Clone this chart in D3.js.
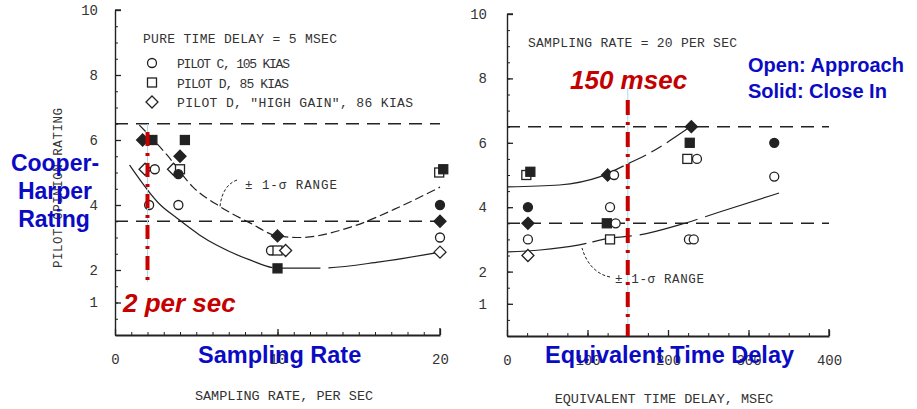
<!DOCTYPE html>
<html>
<head>
<meta charset="utf-8">
<script src="https://cdn.jsdelivr.net/npm/d3@7"></script>
<style>
  body { margin: 0; background: #fff; }
  svg { display: block; }
  .mono { font-family: "Liberation Mono", "DejaVu Sans Mono", monospace; fill: #333; }
  .blue { font-family: "Liberation Sans", Arial, sans-serif; font-weight: bold; fill: #0b0bc4; }
  .red { font-family: "Liberation Sans", Arial, sans-serif; font-weight: bold; font-style: italic; fill: #c40000; }
</style>
</head>
<body>
<svg id="main" width="917" height="409"></svg>
<script>
// ---- data ----
// pilot: C = pilot C 105 kias (circle), D = pilot D 85 kias (square), DH = pilot D high gain (diamond)
// task: A = approach (open), C = close in (solid)
var leftPoints = [
  [1.7, 6.0, 'DH', 'C'], [2.3, 6.0, 'D', 'C'],
  [1.85, 5.1, 'DH', 'A'], [2.45, 5.1, 'C', 'A'], [2.1, 4.0, 'C', 'A'],
  [4.3, 6.0, 'D', 'C'], [4.0, 5.5, 'DH', 'C'],
  [3.6, 5.1, 'DH', 'A'], [4.0, 5.1, 'D', 'A'], [3.9, 4.95, 'C', 'C'], [3.9, 4.0, 'C', 'A'],
  [10.0, 3.05, 'DH', 'C'],
  [9.6, 2.6, 'C', 'A'], [10.0, 2.6, 'D', 'A'], [10.5, 2.6, 'DH', 'A'],
  [10.0, 2.05, 'D', 'C'],
  [19.95, 5.0, 'D', 'A'], [20.2, 5.1, 'D', 'C'],
  [20, 4.0, 'C', 'C'], [20, 3.5, 'DH', 'C'], [20, 3.0, 'C', 'A'], [20, 2.55, 'DH', 'A']
];
var rightPoints = [
  [24, 5.0, 'D', 'A'], [29, 5.1, 'D', 'C'],
  [26, 4.0, 'C', 'C'], [26, 3.5, 'DH', 'C'], [26, 3.0, 'C', 'A'], [26, 2.5, 'DH', 'A'],
  [125, 5.0, 'DH', 'C'], [133, 5.0, 'C', 'A'],
  [128, 4.0, 'C', 'A'], [124, 3.5, 'D', 'C'], [135, 3.5, 'C', 'A'], [128, 3.0, 'D', 'A'],
  [229, 6.5, 'DH', 'C'], [227, 6.0, 'D', 'C'],
  [224, 5.5, 'D', 'A'], [236, 5.5, 'C', 'A'],
  [226, 3.0, 'C', 'A'], [232, 3.0, 'C', 'A'],
  [332, 6.0, 'C', 'C'], [332, 4.95, 'C', 'A']
];

// +/- 1 sigma range curves
var leftUpper = [[1.5, 6.46], [3.2, 5.54], [4.8, 4.55], [6.5, 3.94], [8.3, 3.45], [10, 3.05],
  [11.4, 3.0], [14.5, 3.32], [17.5, 3.94], [20, 4.55]];
var leftLower = [[0.9, 5.23], [2.8, 4.0], [3.8, 3.6], [5.2, 3.08], [8.3, 2.31], [10, 2.06],
  [12.6, 2.06], [16.3, 2.25], [20, 2.55]];
var rightUpper = [[0, 4.63], [65, 4.69], [115, 4.94], [152, 5.37], [168, 5.56], [229, 6.52]];
var rightLower = [[0, 2.61], [41, 2.67], [90, 2.83], [128, 3.04], [165, 3.14], [214, 3.45],
  [264, 3.85], [338, 4.44]];

var ratingBounds = [6.5, 3.5];
var ratingLabels = [1, 2, 4, 6, 8, 10];
var leftXLabels = [0, 10, 20];
var rightXLabels = [0, 100, 200, 300, 400];
var leftMark = 2;      // per sec
var rightMark = 150;   // msec

var legendItems = [['C', 'PILOT C, 105 KIAS'], ['D', 'PILOT D,  85 KIAS'], ['DH', 'PILOT D, "HIGH GAIN", 86 KIAS']];

// ---- drawing ----
var svg = d3.select('#main');
var ink = '#222';

var xL = d3.scaleLinear().domain([0, 20]).range([115, 440]);
var yL = d3.scaleLinear().domain([0, 10]).range([335, 10]);
var xR = d3.scaleLinear().domain([0, 400]).range([507, 829]);
var yR = d3.scaleLinear().domain([0, 10]).range([336, 14]);

function marker(g, x, y, pilot, task) {
  var fill = task == 'C' ? ink : '#fff';
  if (pilot == 'C') {
    g.append('circle').attr('cx', x).attr('cy', y).attr('r', 4.5)
      .attr('fill', fill).attr('stroke', ink).attr('stroke-width', 1.3);
  } else if (pilot == 'D') {
    g.append('rect').attr('x', x - 4.5).attr('y', y - 4.5).attr('width', 9).attr('height', 9)
      .attr('fill', fill).attr('stroke', ink).attr('stroke-width', 1.3);
  } else {
    g.append('path').attr('d', 'M' + x + ' ' + (y - 6) + ' L' + (x + 6) + ' ' + y + ' L' + x + ' ' + (y + 6) + ' L' + (x - 6) + ' ' + y + 'Z')
      .attr('fill', fill).attr('stroke', ink).attr('stroke-width', 1.3);
  }
}

function panel(x, y, points, upper, lower, xLabels, xMinor, yPad, upDash, lowDash) {
  var g = svg.append('g');
  // minor y ticks
  g.append('g').attr('transform', 'translate(' + x.range()[0] + ',0)')
    .call(d3.axisRight(y).tickValues(d3.range(0, 10.01, 0.5)).tickSizeInner(3).tickSizeOuter(0).tickFormat(''))
    .call(function(a) { a.select('.domain').remove(); a.selectAll('line').attr('stroke', ink); });
  // labelled y axis
  g.append('g').attr('transform', 'translate(' + x.range()[0] + ',0)')
    .call(d3.axisLeft(y).tickValues(ratingLabels).tickSizeInner(-6).tickSizeOuter(0).tickPadding(yPad))
    .call(function(a) {
      a.select('.domain').attr('stroke', ink).attr('stroke-width', 1.4);
      a.selectAll('line').attr('stroke', ink).attr('stroke-width', 1.3);
      a.selectAll('text').attr('class', 'mono').attr('font-size', 14);
    });
  // top bracket
  g.append('line').attr('x1', x.range()[0]).attr('x2', x.range()[0] + 6)
    .attr('y1', y(10)).attr('y2', y(10)).attr('stroke', ink).attr('stroke-width', 1.4);
  // x axis
  g.append('g').attr('transform', 'translate(0,' + y.range()[0] + ')')
    .call(d3.axisBottom(x).tickValues(xMinor).tickSizeInner(-3).tickSizeOuter(0).tickFormat(''))
    .call(function(a) { a.select('.domain').remove(); a.selectAll('line').attr('stroke', ink); });
  g.append('g').attr('transform', 'translate(0,' + y.range()[0] + ')')
    .call(d3.axisBottom(x).tickValues(xLabels).tickSizeInner(-6).tickSizeOuter(0).tickPadding(19))
    .call(function(a) {
      a.select('.domain').attr('stroke', ink).attr('stroke-width', 2);
      a.selectAll('line').attr('stroke', ink).attr('stroke-width', 1.3);
      a.selectAll('text').attr('class', 'mono').attr('font-size', 14);
    });
  g.append('line').attr('x1', x.range()[1]).attr('x2', x.range()[1])
    .attr('y1', y.range()[0]).attr('y2', y.range()[0] - 7).attr('stroke', ink).attr('stroke-width', 1.4);
  // rating boundaries
  g.selectAll('.bound').data(ratingBounds).enter().append('line')
    .attr('x1', x.range()[0]).attr('x2', x.range()[1])
    .attr('y1', function(d) { return y(d); }).attr('y2', function(d) { return y(d); })
    .attr('stroke', ink).attr('stroke-width', 1.6).attr('stroke-dasharray', '13,8');
  // range curves
  var line = d3.line().x(function(d) { return x(d[0]); }).y(function(d) { return y(d[1]); })
    .curve(d3.curveMonotoneX);
  g.append('path').attr('d', line(upper)).attr('fill', 'none').attr('stroke', ink)
    .attr('stroke-width', 1.2).attr('stroke-dasharray', upDash);
  g.append('path').attr('d', line(lower)).attr('fill', 'none').attr('stroke', ink)
    .attr('stroke-width', 1.2).attr('stroke-dasharray', lowDash);
  // points
  points.forEach(function(p) { marker(g, x(p[0]), y(p[1]), p[2], p[3]); });
  return g;
}

panel(xL, yL, leftPoints, leftUpper, leftLower, leftXLabels, d3.range(0, 21, 1), 17, '9,4', '120,0,60,8,40,8');
panel(xR, yR, rightPoints, rightUpper, rightLower, rightXLabels, d3.range(0, 401, 25), 20, '120,5,20,6,12,6', '80,6,40,8,60,8');

// scanned texts
svg.append('text').attr('class', 'mono').attr('x', 143).attr('y', 43).attr('font-size', 13)
  .attr('textLength', 194).text('PURE TIME DELAY = 5 MSEC');
legendItems.forEach(function(d, i) {
  var yy = 63 + i * 19.5;
  marker(svg, 152, yy, d[0], 'A');
  svg.append('text').attr('class', 'mono').attr('x', 177).attr('y', yy + 5).attr('font-size', 13)
    .attr('textLength', i == 2 ? 236 : (i == 0 ? 113 : 112)).text(d[1]);
});
svg.append('text').attr('class', 'mono').attr('x', 528).attr('y', 47).attr('font-size', 13)
  .attr('textLength', 209).text('SAMPLING RATE = 20 PER SEC');
svg.append('text').attr('class', 'mono').attr('x', 284).attr('y', 400).attr('font-size', 13.5)
  .attr('text-anchor', 'middle').text('SAMPLING RATE, PER SEC');
svg.append('text').attr('class', 'mono').attr('x', 664).attr('y', 403).attr('font-size', 13.5)
  .attr('text-anchor', 'middle').text('EQUIVALENT TIME DELAY, MSEC');
svg.append('text').attr('class', 'mono').attr('font-size', 12.5)
  .attr('transform', 'translate(62,188) rotate(-90)').attr('text-anchor', 'middle')
  .attr('textLength', 160).text('PILOT OPINION RATING');

// sigma range notes
svg.append('text').attr('class', 'mono').attr('x', 245).attr('y', 189).attr('font-size', 12.5)
  .attr('textLength', 92).text('\u00b1 1-\u03c3 RANGE');
svg.append('path').attr('d', 'M237 180 C 226 184, 221 195, 220 207').attr('fill', 'none')
  .attr('stroke', ink).attr('stroke-width', 1).attr('stroke-dasharray', '3,2');
svg.append('text').attr('class', 'mono').attr('x', 615).attr('y', 283).attr('font-size', 12.5)
  .attr('textLength', 89).text('\u00b1 1-\u03c3 RANGE');
svg.append('path').attr('d', 'M610 277 C 595 274, 586 262, 582 248').attr('fill', 'none')
  .attr('stroke', ink).attr('stroke-width', 1).attr('stroke-dasharray', '3,2');

// highlight markers
svg.append('line').attr('x1', xL(leftMark)).attr('x2', xL(leftMark)).attr('y1', 124).attr('y2', 282)
  .attr('stroke', '#a8dcec').attr('stroke-width', 1);
svg.append('line').attr('x1', xL(leftMark)).attr('x2', xL(leftMark)).attr('y1', 132).attr('y2', 281)
  .attr('stroke', '#c80000').attr('stroke-width', 4).attr('stroke-dasharray', '14,7,3,7');
svg.append('line').attr('x1', xR(rightMark)).attr('x2', xR(rightMark)).attr('y1', 88).attr('y2', 336)
  .attr('stroke', '#a8dcec').attr('stroke-width', 1);
svg.append('line').attr('x1', xR(rightMark)).attr('x2', xR(rightMark)).attr('y1', 100).attr('y2', 336)
  .attr('stroke', '#c80000').attr('stroke-width', 4).attr('stroke-dasharray', '15,7,3,7');

// presentation labels
svg.append('text').attr('class', 'blue').attr('x', 55).attr('y', 171).attr('font-size', 23)
  .attr('text-anchor', 'middle').text('Cooper-');
svg.append('text').attr('class', 'blue').attr('x', 55).attr('y', 199).attr('font-size', 23)
  .attr('text-anchor', 'middle').text('Harper');
svg.append('text').attr('class', 'blue').attr('x', 54).attr('y', 227).attr('font-size', 23)
  .attr('text-anchor', 'middle').text('Rating');
svg.append('text').attr('class', 'blue').attr('x', 198).attr('y', 363).attr('font-size', 23.5).text('Sampling Rate');
svg.append('text').attr('class', 'blue').attr('x', 545).attr('y', 363).attr('font-size', 23.5).text('Equivalent Time Delay');
svg.append('text').attr('class', 'blue').attr('x', 748).attr('y', 72).attr('font-size', 20).text('Open: Approach');
svg.append('text').attr('class', 'blue').attr('x', 748).attr('y', 98).attr('font-size', 20).text('Solid: Close In');
svg.append('text').attr('class', 'red').attr('x', 123).attr('y', 312).attr('font-size', 26).text('2 per sec');
svg.append('text').attr('class', 'red').attr('x', 570).attr('y', 89).attr('font-size', 26).text('150 msec');
</script>
</body>
</html>
